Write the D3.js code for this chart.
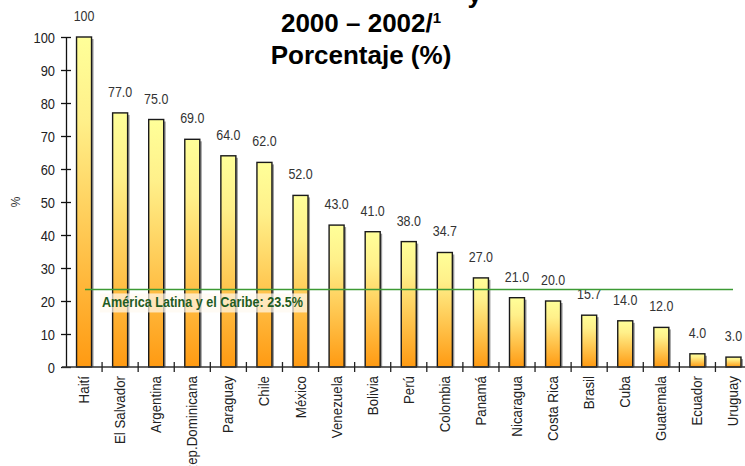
<!DOCTYPE html>
<html>
<head>
<meta charset="utf-8">
<script src="https://cdn.jsdelivr.net/npm/d3@7"></script>
<style>
  html, body { margin: 0; padding: 0; background: #ffffff; }
  svg { display: block; }
</style>
</head>
<body>
<svg id="chart" width="745" height="466"></svg>
<script>
// Countries, in the order drawn
const countries = ["Haití", "El Salvador", "Argentina", "Rep.Dominicana", "Paraguay", "Chile",
  "México", "Venezuela", "Bolivia", "Perú", "Colombia", "Panamá", "Nicaragua", "Costa Rica",
  "Brasil", "Cuba", "Guatemala", "Ecuador", "Uruguay"];
// Percentage per country
const values = [100, 77, 75, 69, 64, 62, 52, 43, 41, 38, 34.7, 27, 21, 20, 15.7, 14, 12, 4, 3];
// Labels printed above each bar
const valueLabels = ["100", "77.0", "75.0", "69.0", "64.0", "62.0", "52.0", "43.0", "41.0", "38.0",
  "34.7", "27.0", "21.0", "20.0", "15.7", "14.0", "12.0", "4.0", "3.0"];
// Regional average
const regionLabel = "América Latina y el Caribe: 23.5%";
const regionValue = 23.5;
// Y axis ticks
const yTicks = [0, 10, 20, 30, 40, 50, 60, 70, 80, 90, 100];
const titleLines = ["2000 – 2002/", "Porcentaje (%)"];

const svg = d3.select("#chart");
const sans = "'Liberation Sans', Arial, sans-serif";
const squeeze = 0.86; // condensed look for the small labels

const plotLeft = 66, plotBottom = 367, plotTop = 37;
const x = d3.scaleBand().domain(countries).range([plotLeft, plotLeft + 36.08 * countries.length]).padding(0);
const y = d3.scaleLinear().domain([0, 100]).range([plotBottom, plotTop]);
const barW = 15;

// Bar gradient: pale yellow at the top to orange at the base
const defs = svg.append("defs");
const grad = defs.append("linearGradient").attr("id", "barGrad")
  .attr("x1", 0).attr("y1", 0).attr("x2", 0).attr("y2", 1);
grad.append("stop").attr("offset", "0%").attr("stop-color", "#ffff99");
grad.append("stop").attr("offset", "25%").attr("stop-color", "#fff08a");
grad.append("stop").attr("offset", "100%").attr("stop-color", "#ff9a12");

// Title (first line sits above the visible area)
svg.append("text").attr("x", 482).attr("y", 3).attr("text-anchor", "end")
  .attr("font-family", sans).attr("font-weight", "bold")
  .attr("font-size", 26).attr("fill", "#000").text("y");
const t1 = svg.append("text").attr("x", 361).attr("y", 32).attr("text-anchor", "middle")
  .attr("font-family", sans).attr("font-weight", "bold")
  .attr("font-size", 26).attr("fill", "#000");
t1.append("tspan").text(titleLines[0]);
t1.append("tspan").attr("font-size", 15).attr("dy", -9).text("1");
svg.append("text").attr("x", 361).attr("y", 64).attr("text-anchor", "middle")
  .attr("font-family", sans).attr("font-weight", "bold")
  .attr("font-size", 26).attr("fill", "#000").text(titleLines[1]);

// Bar shadows
svg.append("g").selectAll("rect").data(countries).join("rect")
  .attr("x", d => x(d) + (x.bandwidth() - barW) / 2 + 2)
  .attr("y", (d, i) => y(values[i]) + 2)
  .attr("width", barW)
  .attr("height", (d, i) => plotBottom - y(values[i]) - 2)
  .attr("fill", "#9a9a9a");

// Bars
svg.append("g").selectAll("rect").data(countries).join("rect")
  .attr("x", d => x(d) + (x.bandwidth() - barW) / 2)
  .attr("y", (d, i) => y(values[i]))
  .attr("width", barW)
  .attr("height", (d, i) => plotBottom - y(values[i]))
  .attr("fill", "url(#barGrad)")
  .attr("stroke", "#1a1a1a").attr("stroke-width", 1.4);

// Value labels
svg.append("g").selectAll("text").data(countries).join("text")
  .attr("transform", (d, i) => `translate(${x(d) + x.bandwidth() / 2},${y(values[i]) - 16}) scale(${squeeze},1)`)
  .attr("text-anchor", "middle")
  .attr("font-family", sans).attr("font-size", 14.5).attr("fill", "#333")
  .text((d, i) => valueLabels[i]);

// Regional average line and its label
const ry = y(regionValue);
svg.append("line").attr("x1", 85).attr("x2", 733).attr("y1", ry).attr("y2", ry)
  .attr("stroke", "#3c9a34").attr("stroke-width", 1.5);
svg.append("rect").attr("x", 100).attr("y", ry + 4).attr("width", 207).attr("height", 19)
  .attr("fill", "#fffaf0").attr("opacity", 0.7);
svg.append("text").attr("transform", `translate(102,${ry + 18}) scale(0.84,1)`)
  .attr("font-family", sans).attr("font-weight", "bold").attr("font-size", 15)
  .attr("fill", "#1f5c22").text(regionLabel);

// Y axis
const yAxis = svg.append("g").attr("transform", `translate(${plotLeft},0)`)
  .call(d3.axisLeft(y).tickValues(yTicks).tickSize(5).tickSizeOuter(0));
yAxis.select(".domain").attr("stroke", "#111").attr("stroke-width", 1.3);
yAxis.selectAll(".tick line").attr("x1", -5).attr("x2", 5).attr("stroke", "#111").attr("stroke-width", 1.3);
yAxis.selectAll(".tick text")
  .attr("x", null).attr("dy", null)
  .attr("transform", `translate(-11,5) scale(${squeeze},1)`)
  .attr("font-family", sans).attr("font-size", 15).attr("fill", "#222");

// X baseline and category separators
svg.append("line").attr("x1", plotLeft - 4).attr("x2", 745).attr("y1", plotBottom).attr("y2", plotBottom)
  .attr("stroke", "#333").attr("stroke-width", 1.3);
svg.append("g").selectAll("line").data(countries.slice(1)).join("line")
  .attr("x1", d => x(d)).attr("x2", d => x(d))
  .attr("y1", plotBottom - 5).attr("y2", plotBottom + 5)
  .attr("stroke", "#222").attr("stroke-width", 1.3);

// Category labels
svg.append("g").selectAll("text").data(countries).join("text")
  .attr("transform", d => `translate(${x(d) + x.bandwidth() / 2 + 5},${plotBottom + 9}) rotate(-90) scale(${squeeze},1)`)
  .attr("text-anchor", "end")
  .attr("font-family", sans).attr("font-size", 15.5).attr("fill", "#222")
  .text(d => d);

// Y axis title
svg.append("text").attr("transform", "translate(20,202) rotate(-90)")
  .attr("text-anchor", "middle")
  .attr("font-family", sans).attr("font-size", 12).attr("fill", "#333").text("%");
</script>
</body>
</html>
